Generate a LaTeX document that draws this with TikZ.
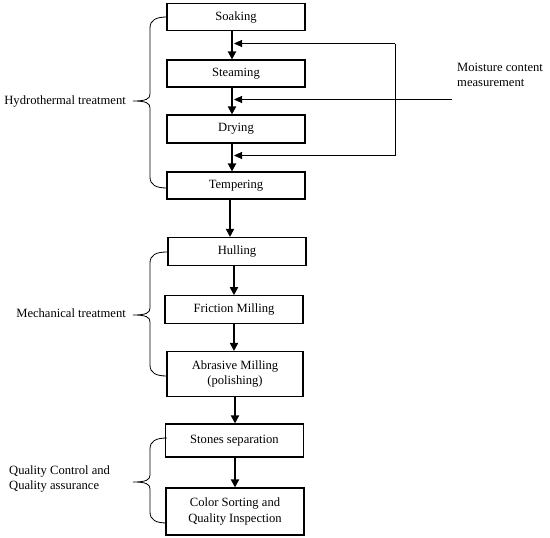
\documentclass[tikz,border=0pt]{standalone}
\usepackage{fontspec}
\setmainfont{Liberation Serif}
\usetikzlibrary{arrows.meta}
\newcommand{\drawbrace}[4]{% x-end, y-top, y-mid, y-bottom
  \draw[bracestyle] (#1,#2) .. controls (156,#2) and (150,#2+3) .. (150,#2+11)
    -- (150,#3-7) .. controls (150,#3-2) and (146,#3) .. (133,#3)
    .. controls (146,#3) and (150,#3+2) .. (150,#3+7)
    -- (150,#4-11) .. controls (150,#4-3) and (156,#4) .. (#1,#4);}
\begin{document}
\begin{tikzpicture}[x=1pt,y=-1pt,
  every node/.style={font=\fontsize{12.6}{15.5}\selectfont},
  stepbox/.style={draw,line width=1.1pt,minimum width=138pt,inner sep=0pt,align=center},
  flow/.style={line width=1.8pt,-{Triangle[length=8pt,width=8pt]}},
  feed/.style={line width=0.9pt,-{Triangle[length=8pt,width=7pt]}},
  thinline/.style={line width=0.9pt},
  bracestyle/.style={line width=0.8pt},
  lbl/.style={inner sep=0pt,align=left}]
\useasboundingbox (0,0) rectangle (550,538);
\node[stepbox,minimum height=27pt] (soak) at (236,17) {Soaking};
\node[stepbox,minimum height=27pt] (steam) at (236,73.5) {Steaming};
\node[stepbox,minimum height=28pt] (dry) at (236,129) {Drying};
\node[stepbox,minimum height=27pt] (temp) at (236,185.5) {Tempering};
\node[stepbox,minimum height=28pt] (hull) at (237,251.5) {Hulling};
\node[stepbox,minimum height=27.5pt] (fric) at (234,309.5) {Friction Milling};
\node[stepbox,minimum height=45pt,minimum width=136pt] (abr) at (235,374) {Abrasive Milling\\(polishing)};
\node[stepbox,minimum height=33pt] (stone) at (234.5,440.5) {Stones separation};
\node[stepbox,minimum height=47pt] (color) at (235,511.5) {Color Sorting and\\Quality Inspection};

\draw[flow] ([xshift=-4pt]soak.south) -- ([xshift=-4pt]steam.north);
\draw[flow] ([xshift=-4pt]steam.south) -- ([xshift=-4pt]dry.north);
\draw[flow] ([xshift=-4pt]dry.south) -- ([xshift=-4pt]temp.north);
\draw[flow] ([xshift=-6pt]temp.south) -- ([xshift=-7pt]hull.north);
\draw[flow] ([xshift=-3pt]hull.south) -- (fric.north);
\draw[flow] (fric.south) -- ([xshift=-1pt]abr.north);
\draw[flow] (abr.south) -- ([xshift=0.5pt]stone.north);
\draw[flow] ([xshift=0.5pt]stone.south) -- (color.north);

\coordinate (f1) at (234,43.5);
\coordinate (f2) at (234,99.5);
\coordinate (f3) at (234,155.5);
\coordinate (r1) at (395,43.5);
\coordinate (r3) at (395,155.5);
\coordinate (m2) at (452,99.5);
\node[lbl,anchor=west] (moist) at (457,75) {Moisture content\\measurement};
\draw[thinline] (r1) -- (r3);
\draw[feed] (r1) -- (f1);
\draw[feed] (m2) -- (f2);
\draw[feed] (r3) -- (f3);

\drawbrace{167}{17}{101}{188}
\drawbrace{167}{252}{315}{376}
\drawbrace{167}{438}{482}{523}

\node[lbl,anchor=east] (hydro) at (126,101) {Hydrothermal treatment};
\node[lbl,anchor=east] (mech) at (126,313) {Mechanical treatment};
\node[lbl,anchor=west] (qc) at (9,479) {Quality Control and\\Quality assurance};
\end{tikzpicture}
\end{document}
